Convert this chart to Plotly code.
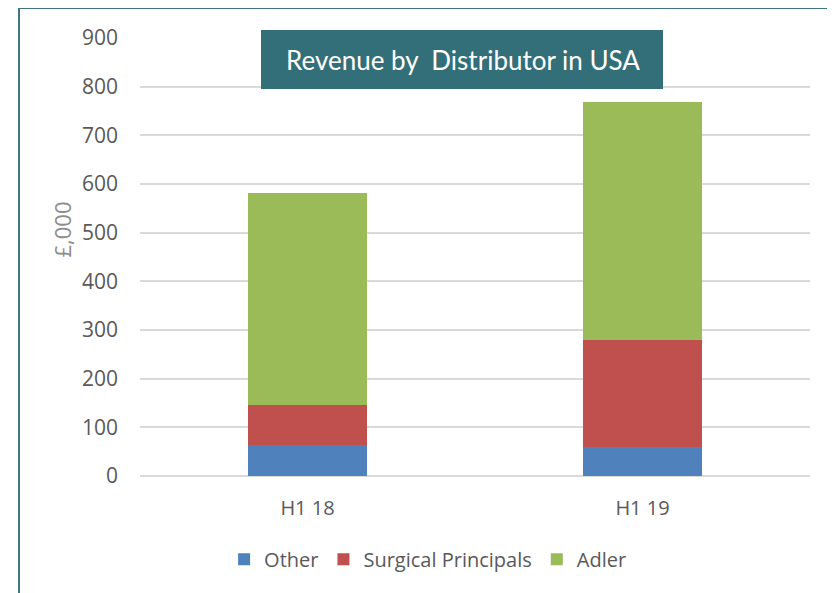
import plotly.graph_objects as go

categories = ["H1 18", "H1 19"]
other = [64, 60]
surgical = [82, 220]
adler = [436, 489]
series_names = ["Other", "Surgical Principals", "Adler"]
colors = ["#4f81bd", "#c0504d", "#9bbb59"]
y_ticks = [0, 100, 200, 300, 400, 500, 600, 700, 800, 900]

fig = go.Figure()
for name, vals, col in zip(series_names, [other, surgical, adler], colors):
    fig.add_trace(go.Bar(name=name, x=categories, y=vals, marker=dict(color=col, line=dict(width=0)), width=0.355))

font_family = "'Open Sans', sans-serif"
fig.update_layout(
    barmode="stack",
    width=835, height=593,
    margin=dict(l=132, r=33, t=30, b=125),
    paper_bgcolor="white", plot_bgcolor="white",
    font=dict(family=font_family, color="#595959", size=20),
    xaxis=dict(showgrid=False, showline=False, ticks="", tickfont=dict(size=20, color="#595959"),
               ticklabelstandoff=18),
    yaxis=dict(range=[0, 900], tickvals=y_ticks, showgrid=True, gridcolor="#d9d9d9", gridwidth=1.5,
               zeroline=True, zerolinecolor="#d9d9d9", zerolinewidth=1.5,
               tickfont=dict(size=21, color="#595959"), ticklabelstandoff=21),
    legend=dict(orientation="h", x=0.43, xanchor="center", y=-0.19, yanchor="middle",
                font=dict(size=20, color="#595959"), traceorder="normal", itemwidth=30),
    showlegend=True,
)

fig.add_annotation(text="£,000", xref="paper", yref="paper", x=(61.5-140)/670, y=(476-230)/438,
                   xanchor="center", yanchor="middle", textangle=-90, showarrow=False,
                   font=dict(size=22, color="#8c8c8c"))
fig.add_shape(type="rect", xref="paper", yref="paper", x0=-0.1806, x1=1.2, y0=-0.4, y1=1.0685,
              line=dict(color="#3d7880", width=2), fillcolor="rgba(0,0,0,0)", layer="above")
fig.add_shape(type="rect", xref="paper", yref="paper", x0=(261-140)/670, x1=(663-140)/670,
              y0=(476-89)/438, y1=(476-30)/438, line=dict(width=0), fillcolor="#336f78", layer="above")
fig.add_annotation(text="Revenue by  Distributor in USA", xref="paper", yref="paper",
                   x=(463-140)/670, y=(476-60)/438, xanchor="center", yanchor="middle",
                   showarrow=False, font=dict(size=26, color="white", family="Lato, sans-serif"))

fig.write_html("out.html")
